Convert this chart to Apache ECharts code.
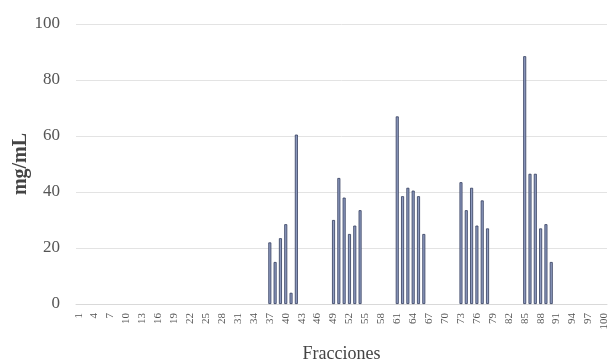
<!DOCTYPE html>
<html>
<head>
<meta charset="utf-8">
<script src="https://cdn.jsdelivr.net/npm/echarts@6/dist/echarts.min.js"></script>
<style>
  html, body { margin: 0; padding: 0; background: #fff; }
  #chart { width: 612px; height: 364px; }
</style>
</head>
<body>
<div id="chart"></div>
<script>
// Fractions 1..100
const fractions = Array.from({ length: 100 }, (_, i) => String(i + 1));

// Measured concentrations (mg/mL) for the fractions that contain material
const fractionIds = [37, 38, 39, 40, 41, 42,
                     49, 50, 51, 52, 53, 54,
                     61, 62, 63, 64, 65, 66,
                     73, 74, 75, 76, 77, 78,
                     85, 86, 87, 88, 89, 90];
const concentrations = [22, 15, 23.5, 28.5, 4, 60.5,
                        30, 45, 38, 25, 28, 33.5,
                        67, 38.5, 41.5, 40.5, 38.5, 25,
                        43.5, 33.5, 41.5, 28, 37, 27,
                        88.5, 46.5, 46.5, 27, 28.5, 15];

const yTicks = { min: 0, max: 100, interval: 20 };

const values = fractions.map(f => {
  const k = fractionIds.indexOf(Number(f));
  return k >= 0 ? concentrations[k] : null;
});

const serif = '"Liberation Serif", "DejaVu Serif", serif';
const chart = echarts.init(document.getElementById('chart'));
chart.setOption({
  animation: false,
  grid: { left: 76, right: 5, top: 24, bottom: 60, outerBoundsMode: 'none' },
  xAxis: {
    type: 'category',
    data: fractions,
    name: 'Fracciones',
    nameLocation: 'middle',
    nameGap: 41,
    nameMoveOverlap: false,
    nameTextStyle: { fontFamily: serif, fontSize: 18, color: '#444' },
    axisLine: { lineStyle: { color: '#d9d9d9' } },
    axisTick: { show: false },
    axisLabel: {
      interval: 2,
      rotate: 90,
      fontFamily: serif,
      fontSize: 11,
      color: '#555',
      margin: 9
    }
  },
  yAxis: {
    type: 'value',
    min: yTicks.min,
    max: yTicks.max,
    interval: yTicks.interval,
    name: 'mg/mL',
    nameLocation: 'middle',
    nameGap: 45,
    nameMoveOverlap: false,
    nameTextStyle: { fontFamily: serif, fontSize: 20, fontWeight: 'bold', color: '#444' },
    axisLine: { show: false },
    axisTick: { show: false },
    splitLine: { lineStyle: { color: '#e3e3e3' } },
    axisLabel: { fontFamily: serif, fontSize: 17, color: '#555', margin: 16 }
  },
  series: [{
    type: 'bar',
    data: values,
    barWidth: 3,
    itemStyle: { color: '#8e9bc0', borderColor: '#313b5c', borderWidth: 0.8 }
  }]
});
</script>
</body>
</html>
